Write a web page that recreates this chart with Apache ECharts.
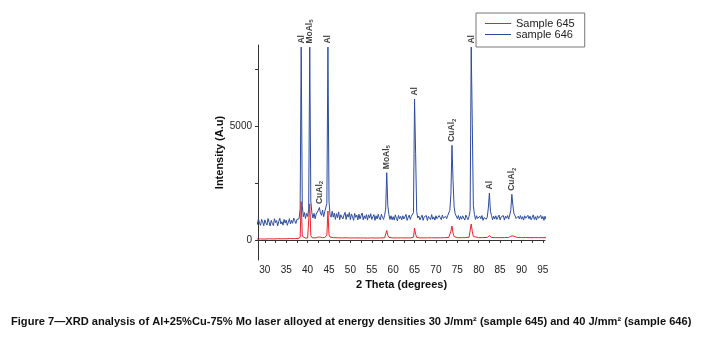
<!DOCTYPE html>
<html>
<head>
<meta charset="utf-8">
<script src="https://cdn.jsdelivr.net/npm/echarts@6/dist/echarts.min.js"></script>
<style>
  html, body { margin: 0; padding: 0; background: #fff; }
  #chart { width: 705px; height: 352px; }
</style>
</head>
<body>
<div id="chart"></div>
<script>
// scan grid for sample 646: 0.25 deg steps, each row covers 2 degrees
const scanStart = 28;
const scanStep = 0.25;
const counts646 = [
  860, 680, 930, 730, 640, 900, 800, 620,       // 28
  880, 740, 650, 940, 770, 610, 860, 720,       // 30
  630, 930, 760, 850, 620, 810, 950, 700,       // 32
  800, 650, 900, 740, 870, 640, 780, 930,       // 34
  700, 860, 730, 960, 840, 720, 900, 960,       // 36
  930, 1350, 8460, 1500, 1020, 1200, 940, 1160, // 38
  1030, 1350, 8460, 1700, 1180, 960, 1170, 930, // 40
  1130, 1060, 1300, 1420, 1180, 1080, 1310, 1020, // 42
  1240, 1180, 1600, 8460, 1700, 1090, 1000, 1260, // 44
  1000, 1180, 900, 1150, 980, 1230, 890, 1100,  // 46
  1160, 920, 1090, 1210, 900, 1120, 1000, 1200, // 48
  890, 1140, 1010, 860, 1160, 990, 1090, 880,   // 50
  1130, 920, 1070, 1180, 880, 1060, 930, 1110,  // 52
  870, 1100, 960, 1150, 900, 1010, 1110, 860,   // 54
  1060, 920, 1120, 970, 880, 1130, 990, 900,    // 56
  1080, 1350, 2950, 1500, 1120, 900, 1060, 880, // 58
  1020, 870, 1100, 950, 840, 1080, 930, 1030,   // 60
  880, 1060, 920, 1010, 1120, 860, 980, 1090,   // 62
  900, 1040, 980, 1200, 6180, 3800, 1250, 960,  // 64
  1050, 880, 980, 1090, 860, 1010, 940, 1070,   // 66
  850, 1030, 950, 890, 1110, 910, 1010, 870,    // 68
  1060, 930, 870, 1070, 980, 890, 1090, 950,    // 70
  870, 1040, 930, 1070, 1080, 1300, 2000, 4150, // 72
  2600, 1450, 1150, 1090, 940, 1070, 880, 1030, // 74
  910, 1060, 960, 870, 1090, 980, 890, 1040,    // 76
  1300, 8460, 5100, 1500, 1120, 900, 1060, 940, // 78
  890, 1040, 930, 1070, 860, 980, 1060, 910,    // 80
  1000, 1400, 2060, 1250, 1070, 880, 1040, 920, // 82
  1060, 900, 980, 1090, 880, 1010, 930, 1070,   // 84
  870, 1040, 950, 1070, 910, 1090, 1300, 2000,  // 86
  1500, 1150, 1060, 940, 890, 1040, 920, 1070,  // 88
  910, 1020, 870, 1060, 950, 890, 1080, 930,    // 90
  1040, 880, 980, 1100, 900, 1020, 870, 1060,   // 92
  950, 880, 1080, 920, 1030, 860, 1040, 900     // 94
];

// sample 645: [2theta, counts]
const scan645 = [
  [28, 40], [29, 45], [30, 38], [31, 50], [32, 42], [33, 55], [34, 48], [35, 52],
  [36, 60], [37, 58], [37.75, 65], [38.25, 110], [38.5, 1680], [38.75, 160], [39, 90],
  [39.5, 80], [40, 85], [40.25, 150], [40.5, 1580], [40.75, 200], [41, 100], [41.5, 90],
  [42, 95], [42.5, 130], [42.75, 170], [43, 120], [43.5, 100], [44, 110], [44.5, 200],
  [44.75, 1270], [45, 220], [45.25, 130], [46, 100], [47, 95], [48, 90], [49, 95],
  [50, 85], [51, 90], [52, 85], [53, 88], [54, 82], [55, 90], [56, 85], [57, 88],
  [58, 95], [58.25, 130], [58.5, 410], [58.75, 200], [59, 110], [60, 90], [61, 88],
  [62, 92], [63, 88], [64, 90], [64.75, 120], [65, 520], [65.25, 250], [65.5, 110],
  [66, 95], [67, 90], [68, 92], [69, 95], [70, 92], [71, 95], [72, 98], [73, 110],
  [73.25, 150], [73.5, 380], [73.75, 610], [74, 300], [74.25, 150], [74.5, 115],
  [75, 100], [76, 98], [77, 100], [77.75, 120], [78.25, 700], [78.5, 380], [78.75, 150],
  [79, 105], [80, 100], [81, 102], [82, 110], [82.25, 150], [82.5, 190], [82.75, 130],
  [83, 105], [84, 102], [85, 100], [86, 105], [87, 110], [87.5, 160], [87.75, 230],
  [88, 180], [88.25, 120], [89, 105], [90, 102], [91, 105], [92, 100], [93, 103],
  [94, 100], [95, 102], [96, 100]
];

// phase identification labels
const peakAngles = [38.5, 40.5, 44.75, 42.75, 58.5, 65.0, 73.75, 78.25, 82.5, 87.75];
const peakCounts = [8460, 8460, 8460, 1420, 2950, 6180, 4150, 8460, 2060, 2000];
const peakPhases = ['Al', 'MoAl5', 'Al', 'CuAl2', 'MoAl5', 'Al', 'CuAl2', 'Al', 'Al', 'CuAl2'];

const xTickLabels = [30, 35, 40, 45, 50, 55, 60, 65, 70, 75, 80, 85, 90, 95];
const xTickMarks = [30, 32.5, 35, 37.5, 40, 42.5, 45, 47.5, 50, 52.5, 55, 57.5, 60, 62.5,
  65, 67.5, 70, 72.5, 75, 77.5, 80, 82.5, 85, 87.5, 90, 92.5, 95];
const yTickLabels = [0, 5000];
const yTickMarks = [0, 2500, 5000, 7500];

const data646 = counts646.map((c, i) => [scanStart + i * scanStep, c]);
const peakData = peakAngles.map((a, i) => [a, peakCounts[i], peakPhases[i]]);

const chart = echarts.init(document.getElementById('chart'));
chart.setOption({
  animation: false,
  backgroundColor: '#fff',
  textStyle: { fontFamily: "'Liberation Sans', Arial, sans-serif" },
  title: {
    text: 'Figure 7\u2014XRD analysis of Al+25%Cu-75% Mo laser alloyed at energy densities 30 J/mm\u00b2 (sample 645) and 40 J/mm\u00b2 (sample 646)',
    left: 11,
    top: 316,
    padding: 0,
    textStyle: { fontSize: 11.1, fontWeight: 'bold', color: '#111' }
  },
  legend: {
    data: ['Sample 645', 'sample 646'],
    orient: 'vertical',
    left: 476,
    top: 13,
    padding: [5, 10, 7, 9],
    icon: 'rect',
    itemWidth: 26,
    itemHeight: 1,
    itemGap: 0,
    borderColor: '#777',
    borderWidth: 1,
    borderRadius: 0,
    textStyle: { fontSize: 11, color: '#222', lineHeight: 11 }
  },
  grid: { left: 258, right: 160, top: 45, bottom: 92 },
  xAxis: {
    type: 'value',
    min: 28.4,
    max: 95.5,
    name: '2 Theta (degrees)',
    nameLocation: 'middle',
    nameGap: 19,
    nameTextStyle: { fontSize: 11, fontWeight: 'bold', color: '#111' },
    axisLine: { lineStyle: { color: '#333', width: 1 } },
    axisTick: { customValues: xTickMarks, length: 3, lineStyle: { color: '#333' } },
    axisLabel: { customValues: xTickLabels, fontSize: 10, color: '#222', margin: 5 },
    splitLine: { show: false }
  },
  yAxis: {
    type: 'value',
    min: -880,
    max: 8550,
    name: 'Intensity (A.u)',
    nameLocation: 'middle',
    nameGap: 26,
    nameTextStyle: { fontSize: 11, fontWeight: 'bold', color: '#111' },
    axisLine: { show: true, lineStyle: { color: '#333', width: 1 } },
    axisTick: { show: true, customValues: yTickMarks, length: 3, lineStyle: { color: '#333' } },
    axisLabel: { customValues: yTickLabels, fontSize: 10, color: '#222', margin: 6, formatter: v => String(v) },
    splitLine: { show: false }
  },
  series: [
    {
      name: 'Sample 645',
      type: 'line',
      data: scan645,
      symbol: 'none',
      z: 3,
      lineStyle: { color: '#ec2229', width: 1 },
      itemStyle: { color: '#ec2229' }
    },
    {
      name: 'sample 646',
      type: 'line',
      data: data646,
      symbol: 'none',
      z: 2,
      lineStyle: { color: '#2d4c9f', width: 1 },
      itemStyle: { color: '#2d4c9f' }
    },
    {
      name: 'phases',
      type: 'scatter',
      data: peakData,
      symbolSize: 1,
      itemStyle: { color: 'rgba(0,0,0,0)' },
      silent: true,
      z: 4,
      label: {
        show: true,
        position: 'top',
        distance: 3,
        rotate: 90,
        align: 'left',
        verticalAlign: 'middle',
        fontSize: 8.5,
        fontWeight: 'bold',
        color: '#111',
        formatter: p => p.value[2].replace(/(\d)$/, '{s|$1}'),
        rich: {
          s: { fontSize: 6, fontWeight: 'bold', color: '#111', verticalAlign: 'bottom', padding: [4, 0, 0, 0] }
        }
      }
    }
  ]
});
</script>
</body>
</html>
